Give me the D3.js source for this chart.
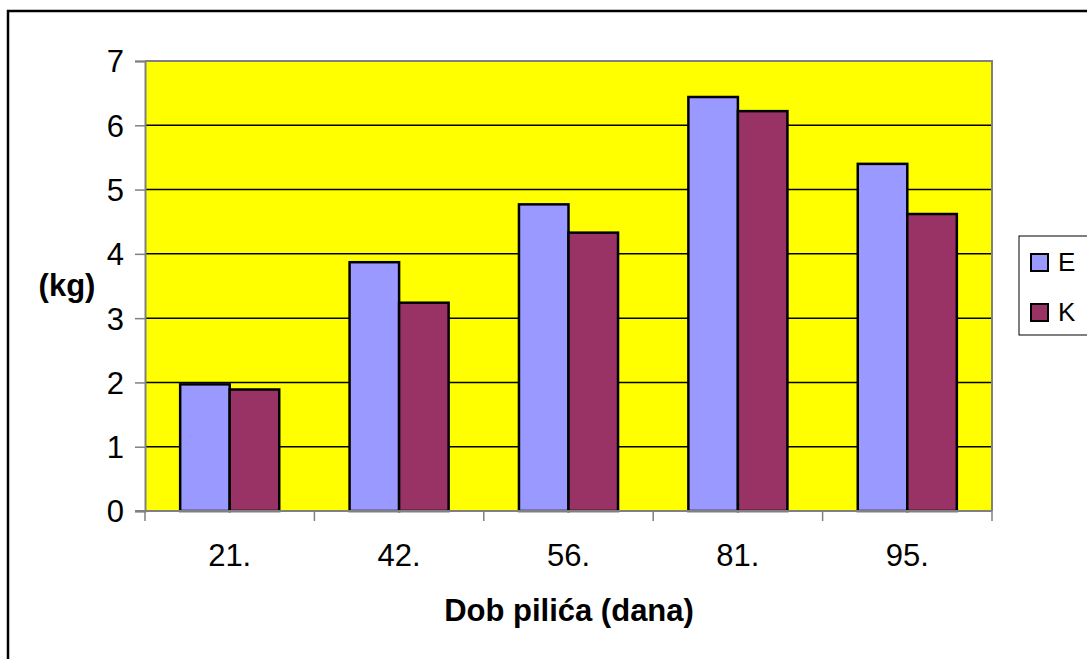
<!DOCTYPE html>
<html>
<head>
<meta charset="utf-8">
<script src="https://cdn.jsdelivr.net/npm/d3@7"></script>
<style>
  body { margin: 0; background: #fff; }
  svg { display: block; font-family: "Liberation Sans", Arial, sans-serif; }
</style>
</head>
<body>
<script>
// chart values
const categories = ['21.', '42.', '56.', '81.', '95.']
const seriesNames = ['E', 'K']
const valuesE = [1.97, 3.87, 4.77, 6.44, 5.40]
const valuesK = [1.89, 3.24, 4.33, 6.22, 4.62]
const yTicks = [0, 1, 2, 3, 4, 5, 6, 7]

const width = 1087
const height = 659
const plot = { left: 145, top: 61, right: 992, bottom: 511 }
const colors = ['#9999ff', '#993366']

const svg = d3.select('body').append('svg')
  .attr('width', width)
  .attr('height', height)

// outer chart border (only top and left are inside the window)
svg.append('path')
  .attr('d', `M8,${height + 5} V11 H${width + 5}`)
  .attr('fill', 'none')
  .attr('stroke', '#000')
  .attr('stroke-width', 2.5)

const x0 = d3.scaleBand().domain(categories).range([plot.left, plot.right])
const x1 = d3.scaleBand().domain(seriesNames).range([0, x0.bandwidth()]).paddingOuter(0.71)
const y = d3.scaleLinear().domain([0, 7]).range([plot.bottom, plot.top])
const color = d3.scaleOrdinal().domain(seriesNames).range(colors)

// plot background
svg.append('rect')
  .attr('x', plot.left)
  .attr('y', plot.top)
  .attr('width', plot.right - plot.left)
  .attr('height', plot.bottom - plot.top)
  .attr('fill', '#ffff00')

// grid lines
svg.append('g')
  .selectAll('line')
  .data(yTicks.filter(d => d > 0 && d < 7))
  .enter().append('line')
  .attr('x1', plot.left)
  .attr('x2', plot.right)
  .attr('y1', d => y(d))
  .attr('y2', d => y(d))
  .attr('stroke', '#000')
  .attr('stroke-width', 1.5)

// plot border
svg.append('path')
  .attr('d', `M${plot.left},${plot.top} H${plot.right} V${plot.bottom}`)
  .attr('fill', 'none')
  .attr('stroke', '#808080')
  .attr('stroke-width', 2)

// bars
const rows = categories.map((c, i) => ({ label: c, values: [valuesE[i], valuesK[i]] }))
const group = svg.selectAll('.cat')
  .data(rows)
  .enter().append('g')
  .attr('class', 'cat')
  .attr('transform', d => `translate(${x0(d.label)},0)`)

group.selectAll('rect')
  .data(d => d.values)
  .enter().append('rect')
  .attr('x', (d, i) => x1(seriesNames[i]))
  .attr('width', x1.bandwidth())
  .attr('y', d => y(d))
  .attr('height', d => y(0) - y(d))
  .attr('fill', (d, i) => color(seriesNames[i]))
  .attr('stroke', '#000')
  .attr('stroke-width', 2.5)

// y axis
const yAxis = svg.append('g')
  .attr('transform', `translate(${plot.left},0)`)
  .call(d3.axisLeft(y).tickValues(yTicks).tickSize(10).tickPadding(11).tickFormat(d3.format('d')))
yAxis.select('.domain').attr('stroke', '#808080').attr('stroke-width', 2)
yAxis.selectAll('.tick line').attr('stroke', '#808080').attr('stroke-width', 1.5)
yAxis.selectAll('.tick text')
  .attr('font-size', 31)
  .attr('font-family', '"Liberation Sans", Arial, sans-serif')
  .attr('fill', '#000')
  .attr('dy', '0.35em')

// x axis: ticks between categories
const xAxis = svg.append('g')
  .attr('transform', `translate(0,${plot.bottom})`)
xAxis.append('line')
  .attr('x1', plot.left - 10)
  .attr('x2', plot.right)
  .attr('stroke', '#808080')
  .attr('stroke-width', 2)
xAxis.selectAll('.sep')
  .data(categories.map(c => x0(c)).concat([plot.right]))
  .enter().append('line')
  .attr('class', 'sep')
  .attr('x1', d => d)
  .attr('x2', d => d)
  .attr('y1', 0)
  .attr('y2', 10)
  .attr('stroke', '#808080')
  .attr('stroke-width', 1.5)
xAxis.selectAll('.lbl')
  .data(categories)
  .enter().append('text')
  .attr('class', 'lbl')
  .attr('x', d => x0(d) + x0.bandwidth() / 2)
  .attr('y', 55)
  .attr('text-anchor', 'middle')
  .attr('font-size', 31)
  .text(d => d)

// axis titles
svg.append('text')
  .attr('x', 569)
  .attr('y', 621)
  .attr('text-anchor', 'middle')
  .attr('font-size', 31)
  .attr('font-weight', 'bold')
  .text('Dob pilića (dana)')

svg.append('text')
  .attr('x', 67)
  .attr('y', 296)
  .attr('text-anchor', 'middle')
  .attr('font-size', 31)
  .attr('font-weight', 'bold')
  .text('(kg)')

// legend
const legend = svg.append('g').attr('transform', 'translate(1019,236)')
legend.append('rect')
  .attr('width', 70)
  .attr('height', 99)
  .attr('fill', '#fff')
  .attr('stroke', '#000')
  .attr('stroke-width', 1)

const item = legend.selectAll('.item')
  .data(seriesNames)
  .enter().append('g')
  .attr('class', 'item')
  .attr('transform', (d, i) => `translate(12,${18 + i * 50})`)
item.append('rect')
  .attr('width', 17)
  .attr('height', 17)
  .attr('fill', d => color(d))
  .attr('stroke', '#000')
  .attr('stroke-width', 2)
item.append('text')
  .attr('x', 27)
  .attr('y', 17)
  .attr('font-size', 26)
  .text(d => d)
</script>
</body>
</html>
